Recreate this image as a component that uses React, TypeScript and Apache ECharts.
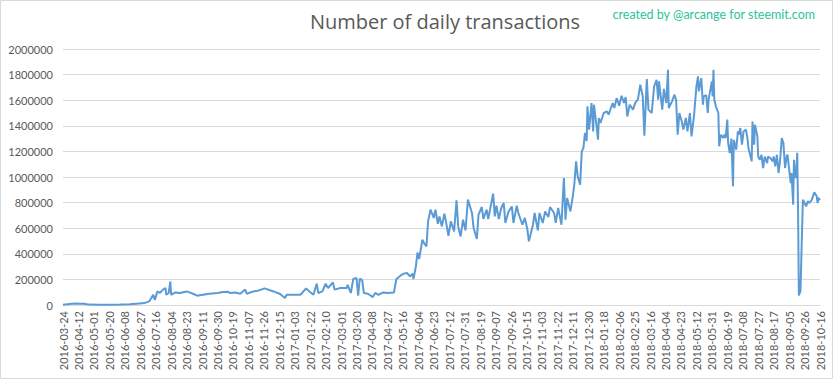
import React, { useEffect, useRef } from "react";
import * as echarts from "echarts";

const titleText = "Number of daily transactions";
const creditText = "created by @arcange for steemit.com";

const tickLabels = [
  "2016-03-24", "2016-04-12", "2016-05-01", "2016-05-20", "2016-06-08", "2016-06-27",
  "2016-07-16", "2016-08-04", "2016-08-23", "2016-09-11", "2016-09-30", "2016-10-19",
  "2016-11-07", "2016-11-26", "2016-12-15", "2017-01-03", "2017-01-22", "2017-02-10",
  "2017-03-01", "2017-03-20", "2017-04-08", "2017-04-27", "2017-05-16", "2017-06-04",
  "2017-06-23", "2017-07-12", "2017-07-31", "2017-08-19", "2017-09-07", "2017-09-26",
  "2017-10-15", "2017-11-03", "2017-11-22", "2017-12-11", "2017-12-30", "2018-01-18",
  "2018-02-06", "2018-02-25", "2018-03-16", "2018-04-04", "2018-04-23", "2018-05-12",
  "2018-05-31", "2018-06-19", "2018-07-08", "2018-07-27", "2018-08-17", "2018-09-05",
  "2018-09-26", "2018-10-16",
];
const daysPerTick = 19;
const lastDayIndex = 931;

// position (day index) along the category axis
const dayIndex = [
  0, 8, 15, 21, 26, 32, 45, 57, 70, 82, 94, 100, 106, 111, 113, 116, 119, 123, 126, 127,
  130, 132, 133, 138, 144, 152, 160, 165, 172, 180, 190, 197, 203, 205, 212, 218, 224, 226,
  234, 240, 248, 259, 267, 273, 275, 283, 292, 299, 303, 308, 312, 314, 319, 323, 326, 332,
  334, 341, 349, 350, 354, 357, 361, 363, 365, 368, 370, 375, 381, 384, 388, 394, 400, 407,
  410, 415, 419, 423, 427, 430, 431, 434, 436, 438, 442, 444, 447, 449, 452, 456, 458, 461,
  463, 466, 469, 471, 474, 477, 481, 484, 486, 489, 492, 495, 498, 503, 505, 509, 511, 515,
  517, 521, 523, 529, 531, 533, 536, 539, 542, 544, 548, 552, 554, 558, 560, 565, 568, 571,
  573, 578, 580, 584, 586, 590, 593, 597, 599, 604, 606, 609, 611, 613, 616, 618, 620, 624,
  627, 629, 631, 633, 636, 638, 640, 642, 644, 645, 647, 650, 652, 653, 656, 658, 659, 661,
  665, 669, 671, 676, 678, 681, 684, 687, 690, 692, 694, 697, 701, 704, 707, 710, 713, 715,
  718, 720, 724, 727, 730, 732, 733, 737, 739, 742, 744, 745, 749, 752, 754, 756, 758, 761,
  763, 766, 768, 771, 773, 775, 776, 779, 781, 782, 785, 787, 788, 791, 793, 794, 798, 799,
  800, 801, 803, 806, 807, 809, 812, 813, 815, 817, 818, 820, 822, 824, 825, 828, 830, 831,
  833, 835, 837, 840, 842, 843, 847, 848, 850, 851, 854, 855, 857, 859, 861, 863, 866, 867,
  870, 873, 874, 876, 878, 880, 882, 884, 886, 888, 890, 891, 895, 896, 898, 899, 901, 902,
  903, 904, 905, 907, 909, 910, 912, 914, 916, 918, 921, 923, 924, 927, 928, 929, 931,
];

const transactions = [
  2000, 8000, 12000, 10000, 9000, 3000, 2000, 2000, 3000, 6000, 12000, 15000, 28000, 80000, 40000, 106000, 94000, 120000, 133000, 80000,
  94000, 184000, 80000, 98000, 94000, 106000, 88000, 73000, 80000, 88000, 94000, 101000, 104000, 94000, 97000, 88000, 120000, 88000,
  106000, 112000, 130000, 106000, 86000, 55000, 80000, 80000, 80000, 130000, 106000, 80000, 166000, 94000, 106000, 166000, 133000, 176000,
  120000, 133000, 133000, 158000, 94000, 203000, 211000, 73000, 205000, 195000, 94000, 88000, 62000, 94000, 80000, 98000, 94000, 97000,
  203000, 229000, 245000, 250000, 223000, 245000, 203000, 302000, 411000, 359000, 510000, 484000, 458000, 653000, 745000, 680000, 745000, 635000,
  692000, 614000, 713000, 653000, 541000, 653000, 575000, 817000, 614000, 536000, 666000, 583000, 823000, 719000, 601000, 516000, 705000, 766000,
  672000, 745000, 672000, 870000, 692000, 776000, 672000, 758000, 797000, 641000, 731000, 770000, 641000, 776000, 719000, 627000, 680000, 594000,
  497000, 627000, 719000, 583000, 719000, 641000, 731000, 688000, 766000, 719000, 641000, 758000, 692000, 627000, 992000, 666000, 836000, 731000,
  849000, 953000, 1122000, 1005000, 940000, 1200000, 1226000, 1344000, 1280000, 1552000, 1370000, 1578000, 1356000, 1565000, 1409000, 1291000, 1461000, 1422000,
  1500000, 1513000, 1487000, 1578000, 1539000, 1617000, 1557000, 1635000, 1578000, 1625000, 1473000, 1565000, 1526000, 1583000, 1604000, 1721000, 1630000, 1323000,
  1766000, 1526000, 1500000, 1708000, 1760000, 1604000, 1747000, 1526000, 1688000, 1578000, 1838000, 1539000, 1591000, 1643000, 1604000, 1330000, 1500000, 1434000,
  1370000, 1461000, 1356000, 1500000, 1317000, 1422000, 1474000, 1708000, 1786000, 1669000, 1773000, 1565000, 1630000, 1640000, 1500000, 1604000, 1747000, 1630000,
  1838000, 1604000, 1550000, 1500000, 1240000, 1330000, 1305000, 1330000, 1305000, 1448000, 1266000, 1187000, 1300000, 927000, 1290000, 1213000, 1356000, 1330000,
  1383000, 1252000, 1356000, 1370000, 1290000, 1226000, 1122000, 1434000, 1252000, 1408000, 1317000, 1160000, 1135000, 1174000, 1070000, 1160000, 1109000, 1160000,
  1148000, 1122000, 1160000, 1083000, 1174000, 1031000, 1135000, 1305000, 1266000, 1070000, 1160000, 1174000, 953000, 1031000, 784000, 1135000, 992000, 1031000,
  1190000, 745000, 75000, 110000, 600000, 823000, 797000, 770000, 810000, 797000, 823000, 862000, 880000, 849000, 797000, 836000, 820000,
];

const yMin = 0;
const yMax = 2000000;
const yStep = 200000;

export default function App() {
  const ref = useRef<HTMLDivElement>(null);
  useEffect(() => {
    if (!ref.current) return;
    const chart = echarts.init(ref.current, undefined, { renderer: "svg" });
    const categories = Array.from({ length: lastDayIndex + 1 }, (_, i) => String(i));
    const seriesData = dayIndex.map((d, i) => [d, transactions[i]]);
    chart.setOption({
      animation: false,
      backgroundColor: "#ffffff",
      textStyle: { fontFamily: "Lato" },
      graphic: [
        {
          type: "rect",
          shape: { x: 0.5, y: 0.5, width: 832, height: 378 },
          style: { fill: "none", stroke: "#d9d9d9", lineWidth: 1 },
          silent: true,
        },
        {
          type: "text",
          x: 445,
          y: 21,
          style: {
            text: titleText,
            font: "20px 'Open Sans'",
            fill: "#595959",
            textAlign: "center",
            textVerticalAlign: "middle",
          },
        },
        {
          type: "text",
          x: 815,
          y: 14,
          style: {
            text: creditText,
            font: "12.5px Lato",
            fill: "#2cc39d",
            textAlign: "right",
            textVerticalAlign: "middle",
          },
        },
      ],
      grid: { left: 63, right: 13, top: 49, bottom: 74, containLabel: false },
      xAxis: {
        type: "category",
        data: categories,
        boundaryGap: false,
        axisLine: { show: true, lineStyle: { color: "#d9d9d9", width: 1 } },
        axisTick: { show: false },
        axisLabel: {
          interval: daysPerTick - 1,
          rotate: 90,
          fontSize: 11,
          color: "#595959",
          fontFamily: "Lato",
          margin: 6,
          formatter: (_v: string, idx: number) =>
            idx % daysPerTick === 0 ? tickLabels[idx / daysPerTick] ?? "" : "",
        },
        splitLine: { show: false },
      },
      yAxis: {
        type: "value",
        min: yMin,
        max: yMax,
        interval: yStep,
        axisLine: { show: false },
        axisTick: { show: false },
        axisLabel: {
          fontSize: 11,
          color: "#595959",
          fontFamily: "Lato",
          margin: 10,
          formatter: (v: number) => String(v),
        },
        splitLine: { lineStyle: { color: "#d9d9d9", width: 1 } },
      },
      series: [
        {
          type: "line",
          data: seriesData,
          showSymbol: false,
          symbol: "none",
          lineStyle: { color: "#5b9bd5", width: 2 },
          itemStyle: { color: "#5b9bd5" },
        },
      ],
    });
    return () => chart.dispose();
  }, []);
  return (
    <div
      ref={ref}
      style={{ position: "fixed", left: 0, top: 0, width: 833, height: 379 }}
    />
  );
}
